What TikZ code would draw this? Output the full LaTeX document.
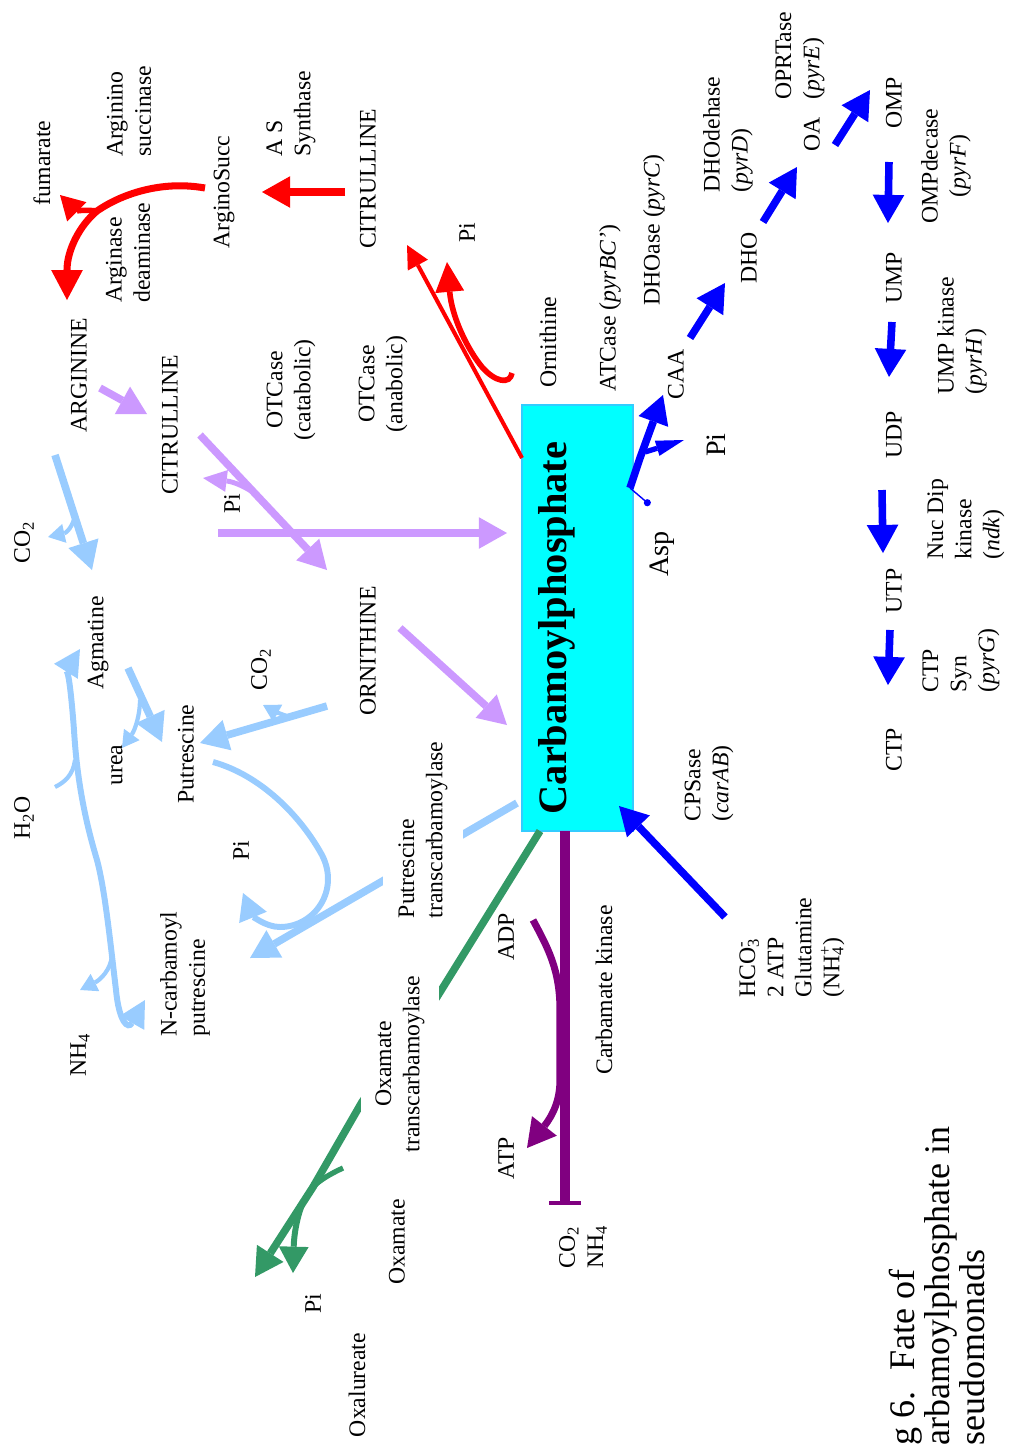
\documentclass[tikz,border=0pt]{standalone}
\usepackage{fontspec}
\setmainfont{Liberation Serif}
\usepackage{xcolor}
\usetikzlibrary{arrows.meta, positioning, calc}

\definecolor{cpcyan}{HTML}{00FFFF}
\definecolor{boxline}{HTML}{33CCFF}
\definecolor{lavender}{HTML}{CC99FF}
\definecolor{skyblue}{HTML}{99CCFF}
\definecolor{seagreen}{HTML}{339966}
\definecolor{carbpurple}{HTML}{800080}

\begin{document}
\begin{tikzpicture}[
    x=0.02cm, y=-0.02cm,
    lbl/.style={rotate=90, inner sep=0pt, font=\fontsize{13.5}{16}\selectfont},
    big/.style={lbl, font=\fontsize{16}{19}\selectfont},
    flow/.style={line width=4.3pt, line join=round, -{Triangle[length=16pt,width=18pt,line width=0pt]}},
    twig/.style={line width=2.4pt, -{Triangle[length=9.5pt,width=11pt,line width=0pt]}},
    cpbox/.style={draw=boxline, fill=cpcyan, line width=0.8pt, minimum width=2.22cm, minimum height=8.52cm, inner sep=0pt}
]
\useasboundingbox (0,0) rectangle (1011,1445);

% Nodes
\node[cpbox] (cp) at (577.5,618) {};

% arginine / citrulline
\node[lbl] (fum) at (42,163) {fumarate};
\node[lbl, align=left, anchor=west] (asuc) at (129,157) {Arginino\\succinase};
\node[lbl] (asc) at (224,192) {ArginoSucc};
\node[lbl, align=left, anchor=west] (assyn) at (291,157) {A S\\Synthase};
\node[lbl] (citR) at (368,179) {CITRULLINE};
\node[lbl, align=left, anchor=west] (adea) at (128,303) {Arginase\\deaminase};
\node[lbl] (arg) at (79,375) {ARGININE};
\node[lbl] (piR) at (467,233) {Pi};
\node[lbl, align=center] (otccat) at (291,390) {OTCase\\(catabolic)};
\node[lbl, align=center] (otcana) at (383,384) {OTCase\\(anabolic)};
\node[lbl] (ornlbl) at (548,342) {Ornithine};

% pyrimidines
\node[lbl] (atc) at (610,308) {ATCase (\textit{pyrBC'})};
\node[lbl] (dhoase) at (654,230) {DHOase (\textit{pyrC})};
\node[lbl, align=left, anchor=west] (dhodh) at (728,193) {DHOdehase\\(\textit{pyrD})};
\node[lbl, align=left, anchor=west] (oprt) at (800,100) {OPRTase\\(\textit{pyrE})};
\node[lbl] (oa) at (812,134) {OA};
\node[lbl] (omp) at (894,103) {OMP};
\node[lbl, align=center] (ompdc) at (946,166) {OMPdecase\\(\textit{pyrF})};
\node[lbl] (dho) at (749,258) {DHO};
\node[lbl] (caa) at (676,374) {CAA};
\node[lbl] (ump) at (894,278) {UMP};
\node[lbl, align=left, anchor=west] (umpk) at (962,395) {UMP kinase\\(\textit{pyrH})};
\node[lbl] (udp) at (894,435) {UDP};
\node[big] (piA) at (716,445) {Pi};
\node[big] (asp) at (662,554) {Asp};
\node[lbl, align=left, anchor=west] (ndk) at (966,560) {Nuc Dip\\kinase\\(\textit{ndk})};
\node[lbl] (utp) at (894,591) {UTP};
\node[lbl, align=left, anchor=west] (ctps) at (961,693) {CTP\\Syn\\(\textit{pyrG})};
\node[lbl] (ctp) at (894,750) {CTP};
\node[lbl, align=left, anchor=west] (cps) at (709,822) {CPSase\\(\textit{carAB})};
\node[lbl, align=left, anchor=west] (subs) at (792,998) {HCO\rlap{\textsubscript{3}}\textsuperscript{-}\\2 ATP\\Glutamine\\(NH\rlap{\textsubscript{4}}\textsuperscript{+})};

% carbamate kinase
\node[lbl] (ck) at (604,990) {Carbamate kinase};
\node[lbl] (adp) at (506,937) {ADP};
\node[lbl] (atp) at (506,1158) {ATP};
\node[lbl, align=left, anchor=west] (co2nh4) at (583,1269) {CO\textsubscript{2}\\NH\textsubscript{4}};

% putrescine side
\node[lbl] (citP) at (170,425) {CITRULLINE};
\node[lbl] (piP) at (232,504) {Pi};
\node[lbl] (co2a) at (24,542) {CO\textsubscript{2}};
\node[lbl] (orn) at (368,651) {ORNITHINE};
\node[lbl] (agm) at (98,643) {Agmatine};
\node[lbl] (co2b) at (261,669) {CO\textsubscript{2}};
\node[lbl] (urea) at (117,765) {urea};
\node[lbl] (put) at (186,754) {Putrescine};
\node[lbl] (h2o) at (24,818) {H\textsubscript{2}O};
\node[lbl] (piB) at (241,851) {Pi};
\node[lbl, align=left, anchor=west] (ncp) at (185,1037) {N-carbamoyl\\putrescine};
\node[lbl] (nh4) at (80,1055) {NH\textsubscript{4}};

% oxamate side
\node[lbl] (oxa) at (397,1242) {Oxamate};
\node[lbl] (piG) at (313,1304) {Pi};
\node[lbl] (oxu) at (357,1385) {Oxalureate};

\node[lbl, font=\fontsize{20.5}{18.5}\selectfont, align=left, anchor=west] (cap) at (937,1446) {g 6.~ Fate of\\arbamoylphosphate in\\seudomonads};

% end points
\coordinate (citR-out) at (345,192);
\coordinate (as-in) at (262,192);
\coordinate (asc-out) at (205,188);
\coordinate (fum-fork) at (97,211);
\coordinate (fum-in) at (60,195);
\coordinate (arg-in) at (67,300);
\coordinate (cp-red) at (522,458);
\coordinate (citR-in) at (407,245);
\coordinate (orn-hook) at (512,373);
\coordinate (piR-in) at (447,262);

\coordinate (arg-out) at (100,388);
\coordinate (citP-in) at (147,414);
\coordinate (citP-out) at (200,435);
\coordinate (ornP-in) at (327,570);
\coordinate (piP-fork) at (258,495);
\coordinate (piP-in) at (203,478);
\coordinate (citP-cp) at (218,533);
\coordinate (cp-in1) at (507,533);
\coordinate (ornP-out) at (400,628);
\coordinate (cp-in2) at (507,725);

\coordinate (argB-out) at (55,455);
\coordinate (agm-in) at (92,570);
\coordinate (co2a-fork) at (75,515);
\coordinate (co2a-in) at (48,537);
\coordinate (agm-out) at (128,668);
\coordinate (put-in1) at (162,742);
\coordinate (urea-fork) at (140,700);
\coordinate (urea-in) at (122,748);
\coordinate (ornB-out) at (327,706);
\coordinate (put-in2) at (200,743);
\coordinate (co2b-fork) at (290,717);
\coordinate (co2b-in) at (263,705);
\coordinate (put-out) at (213,762);
\coordinate (piB-in) at (243,893);
\coordinate (cp-ptc) at (517,803);
\coordinate (ncp-in) at (250,958);
\coordinate (agm-low) at (80,649);
\coordinate (ncp-low) at (145,1000);
\coordinate (h2o-out) at (55,787);
\coordinate (h2o-join) at (75,760);
\coordinate (nh4-fork) at (112,955);
\coordinate (nh4-in) at (80,990);

\coordinate (cp-otc) at (540,831);
\coordinate (otc-jog) at (437,997);
\coordinate (oxa-bend) at (362,1102);
\coordinate (oxa-fork) at (313,1187);
\coordinate (oxu-in) at (255,1277);
\coordinate (oxa-out) at (343,1168);
\coordinate (piG-fork) at (304,1200);
\coordinate (piG-in) at (293,1273);

\coordinate (cp-ck) at (565,831);
\coordinate (ck-end) at (565,1205);
\coordinate (adp-out) at (533,920);
\coordinate (atp-in) at (527,1148);

\coordinate (cps-out) at (725,917);
\coordinate (cp-in3) at (619,806);
\coordinate (asp-out) at (630,488);
\coordinate (asp-bend) at (640,458);
\coordinate (caa-in) at (663,395);
\coordinate (piA-fork) at (645,452);
\coordinate (piA-in) at (684,440);
\coordinate (pin-end) at (650,505);
\coordinate (caa-out) at (690,338);
\coordinate (dho-in) at (725,283);
\coordinate (dho-out) at (763,222);
\coordinate (oa-in) at (797,167);
\coordinate (oa-out) at (835,145);
\coordinate (omp-in) at (870,90);
\coordinate (omp-out) at (889,162);
\coordinate (ump-in) at (888,223);
\coordinate (ump-out) at (892,322);
\coordinate (udp-in) at (889,377);
\coordinate (udp-out) at (882,490);
\coordinate (utp-in) at (883,553);
\coordinate (utp-out) at (890,630);
\coordinate (ctp-in) at (888,685);

% red: arginine
\draw[flow, red] (citR-out) -- (as-in);
\draw[red, line width=4pt, -{Triangle[length=17pt,width=18pt,line width=0pt]}] (asc-out) .. controls (160,180) and (120,195) .. (fum-fork) .. controls (80,225) and (67,250) .. (arg-in);
\draw[red, line width=3.2pt, -{Triangle[length=13.5pt,width=15.5pt,line width=0pt]}] (fum-fork) .. controls (88,210) and (75,210) .. (fum-in);
\draw[red, line width=2.3pt, -{Triangle[length=13pt,width=13pt,line width=0pt]}] (cp-red) -- (citR-in);
\draw[red, line width=3.2pt, -{Triangle[length=17pt,width=16.5pt,line width=0pt]}] (orn-hook) .. controls (510,385) and (495,382) .. (482,367) .. controls (468,350) and (452,318) .. (piR-in);

% lavender: citrulline / ornithine
\draw[flow, lavender] (arg-out) -- (citP-in);
\draw[flow, lavender] (citP-out) -- (ornP-in);
\draw[lavender, line width=2.8pt, -{Triangle[length=13.5pt,width=12.5pt,line width=0pt]}] (piP-fork) .. controls (245,487) and (235,482) .. (piP-in);
\draw[flow, lavender] (citP-cp) -- (cp-in1);
\draw[flow, lavender] (ornP-out) -- (cp-in2);

% sky blue: agmatine / putrescine
\draw[flow, skyblue] (argB-out) -- (agm-in);
\draw[twig, skyblue] (co2a-fork) .. controls (73,527) and (66,533) .. (co2a-in);
\draw[flow, skyblue] (agm-out) -- (put-in1);
\draw[twig, skyblue] (urea-fork) .. controls (140,715) and (135,730) .. (urea-in);
\draw[flow, skyblue] (ornB-out) -- (put-in2);
\draw[twig, skyblue] (co2b-fork) .. controls (280,714) and (272,710) .. (co2b-in);
\draw[skyblue, line width=3.4pt, -{Triangle[length=15pt,width=17pt,line width=0pt]}] (put-out) .. controls (260,775) and (300,815) .. (322,855) .. controls (340,890) and (315,927) .. (280,927) .. controls (265,927) and (252,915) .. (piB-in);
\draw[flow, skyblue] (cp-ptc) -- (ncp-in);
\draw[skyblue, line width=3.4pt, {Triangle[length=15pt,width=16pt,line width=0pt]}-{Triangle[length=15pt,width=16pt,line width=0pt]}] (agm-low) .. controls (68,668) and (71,690) .. (74,730) .. controls (77,780) and (85,820) .. (97,860) .. controls (105,890) and (110,940) .. (116,990) .. controls (119,1022) and (128,1030) .. (ncp-low);
\draw[skyblue, line width=2.4pt] (h2o-out) .. controls (65,782) and (73,775) .. (h2o-join);
\draw[twig, skyblue] (nh4-fork) .. controls (111,970) and (100,980) .. (nh4-in);

% green: oxamate
\draw[flow, seagreen] (cp-otc) -- (otc-jog) -- (oxa-bend) -- (oxa-fork) -- (oxu-in);
\draw[seagreen, line width=3pt] (oxa-out) .. controls (330,1174) and (320,1180) .. (oxa-fork);
\draw[seagreen, line width=3.4pt, -{Triangle[length=15pt,width=17pt,line width=0pt]}] (piG-fork) .. controls (297,1215) and (294,1235) .. (piG-in);

% purple: carbamate kinase
\draw[carbpurple, line width=5.5pt, -{Bar[width=18pt,line width=2.4pt]}] (cp-ck) -- (ck-end);
\draw[carbpurple, line width=4pt, -{Triangle[length=16pt,width=18pt,line width=0pt]}] (adp-out) .. controls (548,948) and (560,970) .. (560,1010) -- (560,1080) .. controls (560,1100) and (553,1115) .. (atp-in);

% blue: pyrimidines
\draw[flow, blue] (cps-out) -- (cp-in3);
\draw[blue, line width=0.8pt, -{Circle[length=4pt]}] (asp-out) -- (pin-end);
\draw[flow, blue] (asp-out) -- (asp-bend) -- (caa-in);
\draw[blue, line width=3pt, -{Triangle[length=16pt,width=9pt,line width=0pt]}] (piA-fork) -- (piA-in);
\draw[flow, blue] (caa-out) -- (dho-in);
\draw[flow, blue] (dho-out) -- (oa-in);
\draw[flow, blue] (oa-out) -- (omp-in);
\draw[flow, blue] (omp-out) -- (ump-in);
\draw[flow, blue] (ump-out) -- (udp-in);
\draw[flow, blue] (udp-out) -- (utp-in);
\draw[flow, blue] (utp-out) -- (ctp-in);

% labels over the lines
\node[lbl, font=\fontsize{23}{27}\selectfont\bfseries] (cptext) at (557,628) {Carbamoylphosphate};
\node[lbl, align=left, anchor=west, fill=white, inner xsep=2pt, inner ysep=9pt] (ptc) at (423,922) {Putrescine\\transcarbamoylase};
\node[lbl, align=center, fill=white, inner xsep=2pt, inner ysep=8pt] (otc) at (400,1064) {Oxamate\\transcarbamoylase};

\end{tikzpicture}
\end{document}
